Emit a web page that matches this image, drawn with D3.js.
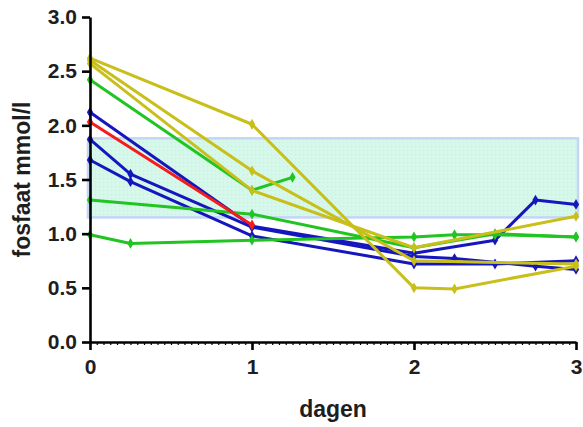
<!DOCTYPE html>
<html>
<head>
<meta charset="utf-8">
<script src="https://cdn.jsdelivr.net/npm/d3@7"></script>
<style>
	body { margin: 0; background: #fff; }
	#graphic text { font-family: 'Liberation Sans', Arial, sans-serif; }
	.axis text { font-size: 21px; font-weight: bold; fill: #1e1e1e; }
	.axis path, .axis line { stroke: #000; }
	.axis--label { font-size: 23px; font-weight: bold; fill: #1e1e1e; }
</style>
</head>
<body>
<div id="graphic"></div>
<script>
// series: [dag, fosfaat mmol/l]
const blue1 = [[0, 2.12], [1, 1.07], [2, 0.82], [2.5, 0.94], [2.75, 1.31], [3, 1.27]];
const blue2 = [[0, 1.87], [0.25, 1.55], [1, 1.06], [2, 0.79], [2.25, 0.77], [2.75, 0.7], [3, 0.67]];
const blue3 = [[0, 1.68], [0.25, 1.48], [1, 0.98], [2, 0.72], [2.5, 0.72], [3, 0.75]];
const green1 = [[0, 2.42], [1, 1.4], [1.25, 1.52]];
const green2 = [[0, 1.31], [1, 1.18], [2, 0.87], [2.5, 1.0], [3, 0.97]];
const green3 = [[0, 0.99], [0.25, 0.91], [1, 0.94], [2, 0.97], [2.25, 0.99], [2.5, 0.99], [3, 0.97]];
const red1 = [[0, 2.03], [1, 1.08]];
const yellow1 = [[0, 2.62], [1, 2.01], [2, 0.5], [2.25, 0.49], [3, 0.7]];
const yellow2 = [[0, 2.6], [1, 1.58], [2, 0.75], [3, 0.72]];
const yellow3 = [[0, 2.57], [1, 1.4], [2, 0.87], [3, 1.16]];

// normal range
const refRange = [1.15, 1.88];

const yTicks = [0, 0.5, 1, 1.5, 2, 2.5, 3];
const xTicks = [0, 1, 2, 3];

const series = [
	{ data: blue1, colour: '#1616be' },
	{ data: blue2, colour: '#1616be' },
	{ data: blue3, colour: '#1616be' },
	{ data: green1, colour: '#22c422' },
	{ data: green2, colour: '#22c422' },
	{ data: green3, colour: '#22c422' },
	{ data: red1, colour: '#f51c1c' },
	{ data: yellow1, colour: '#c9bf1a' },
	{ data: yellow2, colour: '#c9bf1a' },
	{ data: yellow3, colour: '#c9bf1a' }
];

let width = 583, height = 427;
let margin = { top: 17, right: 7, bottom: 85, left: 90 };
let chart_width = width - margin.left - margin.right;
let chart_height = height - margin.top - margin.bottom;

const x = d3.scaleLinear().domain([0, 3]).range([0, chart_width]);
const y = d3.scaleLinear().domain([0, 3]).range([chart_height, 0]);

let svg = d3.select('#graphic')
	.append('svg')
	.attr('width', width)
	.attr('height', height)
	.append('g')
	.attr('transform', 'translate(' + margin.left + ',' + margin.top + ')');

// dotted pattern for the band
let pattern = svg.append('defs').append('pattern')
	.attr('id', 'dots')
	.attr('width', 4)
	.attr('height', 4)
	.attr('patternUnits', 'userSpaceOnUse');
pattern.append('rect').attr('width', 4).attr('height', 4).attr('fill', '#d5f8ea');
pattern.append('rect').attr('x', 1).attr('y', 1).attr('width', 1).attr('height', 1).attr('fill', '#c6eedc');

svg.append('rect')
	.attr('x', x(0) - 2)
	.attr('y', y(refRange[1]))
	.attr('width', x(3) - x(0) + 4)
	.attr('height', y(refRange[0]) - y(refRange[1]))
	.attr('fill', 'url(#dots)')
	.attr('stroke', '#c4d6f6')
	.attr('stroke-width', 2.5);

const line = d3.line().x(d => x(d[0])).y(d => y(d[1]));
const diamond = d3.symbol().type(d3.symbolDiamond).size(34);

series.forEach(s => {
	svg.append('path')
		.datum(s.data)
		.attr('d', line)
		.attr('fill', 'none')
		.attr('stroke', s.colour)
		.attr('stroke-width', 3)
		.attr('stroke-linejoin', 'round');

	svg.selectAll(null)
		.data(s.data)
		.join('path')
		.attr('transform', d => 'translate(' + x(d[0]) + ',' + y(d[1]) + ')')
		.attr('d', diamond)
		.attr('fill', s.colour);
});

// minor ticks every hour
svg.append('g')
	.attr('class', 'x axis minor')
	.attr('transform', 'translate(0,' + chart_height + ')')
	.call(d3.axisBottom(x).tickValues(d3.range(0, 73).map(i => i / 24)).tickSize(3).tickSizeOuter(0).tickFormat(''))
	.call(g => g.select('.domain').remove())
	.selectAll('line').attr('stroke', '#555').attr('stroke-width', 1.2);

svg.append('g')
	.attr('class', 'x axis')
	.attr('transform', 'translate(0,' + chart_height + ')')
	.call(d3.axisBottom(x).tickValues(xTicks).tickSize(8).tickSizeOuter(0).tickPadding(9).tickFormat(d3.format('d')))
	.call(g => g.selectAll('line, path').attr('stroke-width', 2.6));

svg.append('g')
	.attr('class', 'y axis')
	.call(d3.axisLeft(y).tickValues(yTicks).tickSize(8).tickSizeOuter(0).tickPadding(5).tickFormat(d3.format('.1f')))
	.call(g => g.selectAll('line, path').attr('stroke-width', 2.6));

// axis labels
svg.append('text')
	.attr('class', 'axis--label')
	.attr('x', chart_width / 2)
	.attr('y', chart_height + 75)
	.attr('text-anchor', 'middle')
	.text('dagen');

svg.append('text')
	.attr('class', 'axis--label')
	.attr('transform', 'translate(' + (-60) + ',' + (chart_height / 2) + ') rotate(-90)')
	.attr('text-anchor', 'middle')
	.text('fosfaat mmol/l');
</script>
</body>
</html>
